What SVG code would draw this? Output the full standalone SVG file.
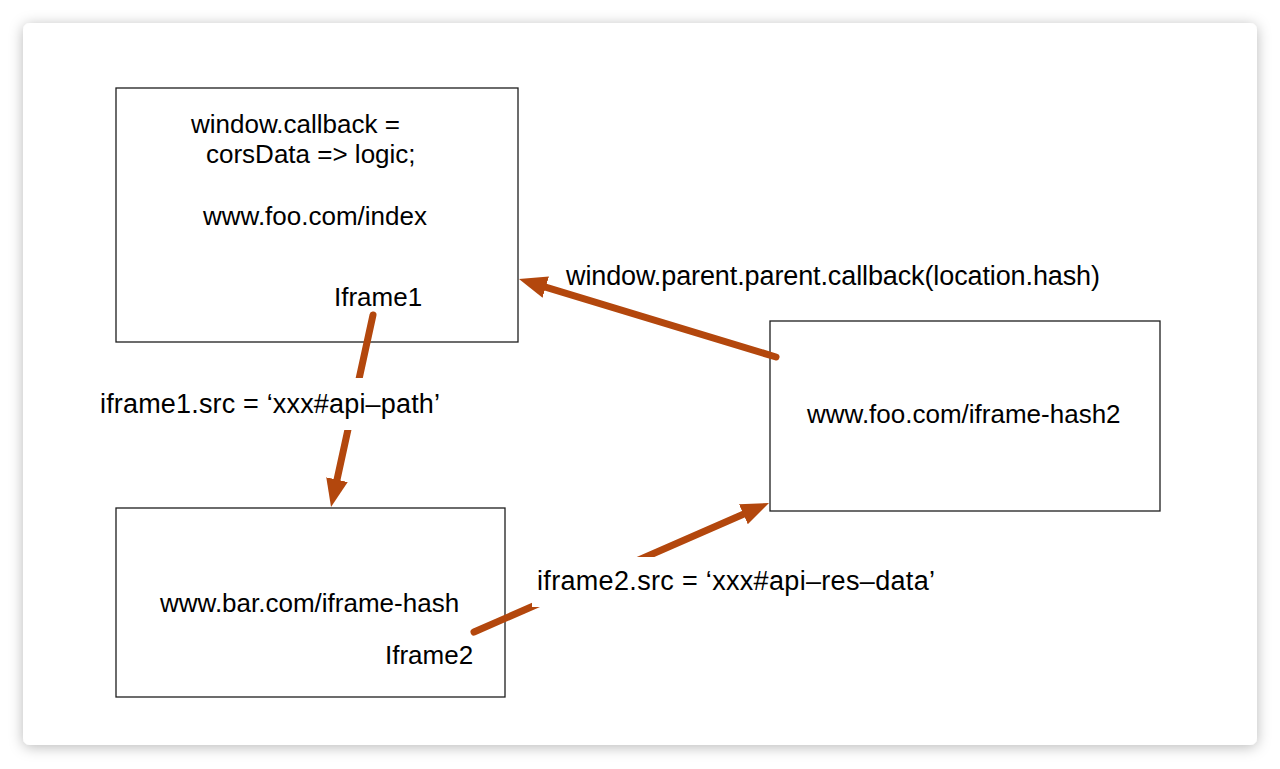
<svg xmlns="http://www.w3.org/2000/svg" width="1280" height="769" viewBox="0 0 1280 769">
  <style>
    .box { fill: #ffffff; stroke: #1e1e1e; stroke-width: 1.3; }
    .t { font-family: "Liberation Sans", Arial, sans-serif; font-size: 26px; fill: #000000; }
    .lbl { font-size: 27px; }
    .conn { fill: none; stroke: #b3470d; stroke-width: 7; stroke-linecap: round; }
    .gap { fill: #ffffff; }
  </style>
  <defs>
    <filter id="shadow" x="-5%" y="-5%" width="110%" height="112%">
      <feDropShadow dx="0" dy="2" stdDeviation="7" flood-color="#000000" flood-opacity="0.28"/>
    </filter>
    <marker id="head" markerUnits="userSpaceOnUse" markerWidth="30" markerHeight="26" refX="8" refY="11" orient="auto" viewBox="0 0 30 22">
      <path d="M0,0 L28,11 L0,22 Z" fill="#b3470d"/>
    </marker>
  </defs>

  <rect x="0" y="0" width="1280" height="769" fill="#ffffff"/>
  <rect x="23" y="23" width="1234" height="722" rx="7" ry="7" fill="#ffffff" filter="url(#shadow)"/>

  <g id="node-index">
    <rect class="box" x="116" y="88" width="402" height="254"/>
    <text class="t" x="191" y="133">window.callback =</text>
    <text class="t" x="206" y="163">corsData =&gt; logic;</text>
    <text class="t" x="203" y="225">www.foo.com/index</text>
    <text class="t" x="334" y="306">Iframe1</text>
  </g>

  <g id="node-bar">
    <rect class="box" x="116" y="508" width="389" height="189"/>
    <text class="t" x="160" y="612">www.bar.com/iframe-hash</text>
    <text class="t" x="385" y="664">Iframe2</text>
  </g>

  <g id="node-hash2">
    <rect class="box" x="770" y="321" width="390" height="190"/>
    <text class="t" x="807" y="423">www.foo.com/iframe-hash2</text>
  </g>

  <g id="connectors">
    <path id="c1" class="conn" d="M373,315 L335.3,487.5" marker-end="url(#head)"/>
    <path id="c2" class="conn" d="M776,357 L538.1,284.8" marker-end="url(#head)"/>
    <path id="c3" class="conn" d="M474,632 L750.7,511" marker-end="url(#head)"/>
  </g>

  <g id="labels">
    <rect class="gap" x="95" y="378" width="350" height="52"/>
    <text class="t lbl" x="100" y="413" textLength="340">iframe1.src = ‘xxx#api–path’</text>
    <rect class="gap" x="532" y="557" width="410" height="50"/>
    <text class="t lbl" x="537" y="590" textLength="398">iframe2.src = ‘xxx#api–res–data’</text>
    <text class="t lbl" x="566" y="285" textLength="534">window.parent.parent.callback(location.hash)</text>
  </g>
</svg>
